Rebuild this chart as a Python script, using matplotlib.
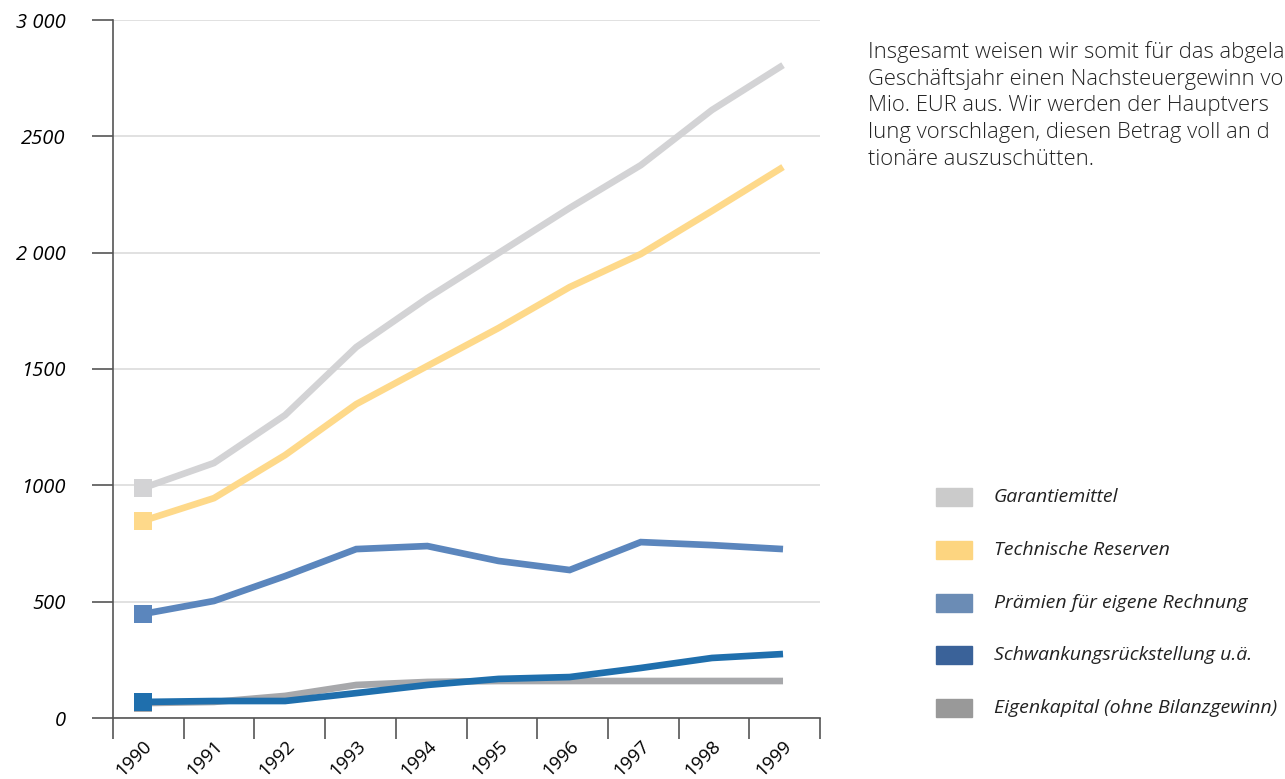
import matplotlib
matplotlib.use("Agg")
import matplotlib.pyplot as plt
import numpy as np
from matplotlib.patches import Rectangle
from matplotlib.transforms import blended_transform_factory

plt.rcParams["font.family"] = ["Open Sans", "DejaVu Sans"]

# --- data (Mio. EUR) ---
years = ["1990", "1991", "1992", "1993", "1994", "1995", "1996", "1997", "1998", "1999"]
garantiemittel = [988, 1096, 1302, 1594, 1805, 1998, 2192, 2376, 2613, 2806]
technische_reserven = [847, 945, 1130, 1349, 1513, 1676, 1852, 1994, 2179, 2368]
praemien = [447, 503, 610, 726, 739, 675, 636, 756, 743, 726]
schwankung = [69, 73, 73, 107, 142, 168, 176, 215, 258, 275]
eigenkapital = [64, 69, 95, 142, 155, 159, 159, 159, 159, 159]

y_ticks = [0, 500, 1000, 1500, 2000, 2500, 3000]
y_labels = ["0", "500", "1000", "1500", "2 000", "2500", "3 000"]

series_labels = [
    "Garantiemittel",
    "Technische Reserven",
    "Prämien für eigene Rechnung",
    "Schwankungsrückstellung u.ä.",
    "Eigenkapital (ohne Bilanzgewinn)",
]
line_colors = ["#d3d3d5", "#fed98a", "#5b86bd", "#1f6fad", "#a7a8ab"]
legend_colors = ["#cbcbcb", "#fdd580", "#6b8cb5", "#3a6299", "#999999"]

note_lines = [
    "Insgesamt weisen wir somit für das abgela",
    "Geschäftsjahr einen Nachsteuergewinn vo",
    "Mio. EUR aus. Wir werden der Hauptvers",
    "lung vorschlagen, diesen Betrag voll an d",
    "tionäre auszuschütten.",
]

W, H = 1285, 779
fig = plt.figure(figsize=(W / 100, H / 100), dpi=100)
ax = fig.add_axes([113 / W, 1 - 718 / H, (820 - 113) / W, (718 - 20) / H])

x = list(range(len(years)))
# grey equity line goes under the dark blue one
draw_order = [0, 1, 2, 4, 3]
all_series = [garantiemittel, technische_reserven, praemien, schwankung, eigenkapital]
for k in draw_order:
    vals, col = all_series[k], line_colors[k]
    ax.plot(x, vals, color=col, linewidth=4.8, solid_joinstyle="miter",
            solid_capstyle="butt", zorder=3)
    ax.plot(x[0], vals[0], marker="s", markersize=12.3, color=col,
            markeredgewidth=0, zorder=4)

x_lo, x_hi = -0.42, 9.52
ax.set_xlim(x_lo, x_hi)
ax.set_ylim(0, 3000)

# category boundaries as ticks, years centred between them
ax.set_xticks(np.linspace(x_lo, x_hi, len(years) + 1))
ax.set_xticklabels([])
ax.set_yticks(y_ticks)
ax.set_yticklabels(y_labels, fontsize=14.5, style="italic")
ax.tick_params(axis="x", direction="out", length=15, width=1.2, color="#555555")
ax.tick_params(axis="y", direction="out", length=15, width=1.2, color="#555555", pad=19)

trans = blended_transform_factory(ax.transData, ax.transAxes)
for i, yr in enumerate(years):
    ax.text(i, -0.027, yr, transform=trans, rotation=45, fontsize=13.4,
            ha="right", va="top", rotation_mode="anchor")

ax.grid(axis="y", color="#dcdcdc", linewidth=1.2, zorder=0)
for side in ["top", "right"]:
    ax.spines[side].set_visible(False)
for side in ["left", "bottom"]:
    ax.spines[side].set_color("#555555")
    ax.spines[side].set_linewidth(1.2)

# explanatory text on the right
for i, line in enumerate(note_lines):
    fig.text(868 / W, 1 - (52 + i * 26.8) / H, line, fontsize=15.8,
             color="#222222", ha="left", va="center", fontweight="light")

# legend built from swatches
for i, (lab, col) in enumerate(zip(series_labels, legend_colors)):
    yc = 497 + i * 52.8
    fig.patches.append(Rectangle((936 / W, 1 - (yc + 9) / H), 36 / W, 18 / H,
                                 transform=fig.transFigure, color=col))
    fig.text(994 / W, 1 - yc / H, lab, fontsize=14, style="italic",
             color="#222222", ha="left", va="center")

fig.savefig("out.png", dpi=100)
